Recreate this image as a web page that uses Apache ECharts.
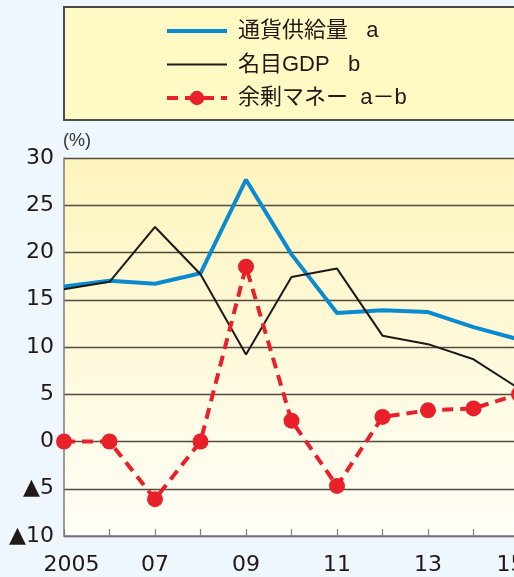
<!DOCTYPE html>
<html lang="ja">
<head>
    <meta charset="utf-8">
    <title>余剰マネー</title>
    <script src="https://cdn.jsdelivr.net/npm/echarts@6/dist/echarts.min.js"></script>
    <style>
        html, body {margin: 0; padding: 0; background: #eef7fe;}
        #main {width: 514px; height: 577px;}
    </style>
</head>
<body>
<div id="main"></div>
<script>
    // データ
    var years = ['2005', '2006', '2007', '2008', '2009', '2010', '2011', '2012', '2013', '2014', '2015'];
    var moneySupply = [16.4, 17.0, 16.7, 17.8, 27.7, 19.8, 13.6, 13.9, 13.7, 12.1, 10.8];   // 通貨供給量 a
    var nominalGdp = [16.1, 16.9, 22.7, 17.7, 9.2, 17.4, 18.3, 11.2, 10.3, 8.7, 5.6];      // 名目GDP b
    var surplus = [0, 0, -6.1, 0, 18.5, 2.2, -4.7, 2.6, 3.3, 3.5, 5.0];                   // 余剰マネー a-b
    var yearLabels = ['2005', '', '07', '', '09', '', '11', '', '13', '', '15'];

    var FONT = '"Liberation Sans", "Noto Sans CJK JP", sans-serif';
    var AXIS_FONT = '"DejaVu Sans", "Noto Sans CJK JP", sans-serif';
    var chart = echarts.init(document.getElementById('main'));

    var option = {
        backgroundColor: '#eef7fe',
        textStyle: {fontFamily: FONT},
        animation: false,
        graphic: [
            {   // 凡例の枠
                type: 'rect',
                shape: {x: 64, y: 7, width: 500, height: 113},
                style: {fill: '#fff9c4', stroke: '#4a4a4a', lineWidth: 2},
                z: 0
            },
            {
                type: 'text',
                left: 63, top: 132,
                style: {text: '(%)', font: '18px ' + FONT, fill: '#333'}
            }
        ],
        legend: {
            orient: 'vertical',
            left: 165, top: 20,
            padding: 0,
            itemWidth: 60, itemHeight: 18,
            itemGap: 11.5,
            lineStyle: {width: 'inherit'},
            textStyle: {fontSize: 22, lineHeight: 22, color: '#231815', fontFamily: FONT, padding: [0, 0, 0, 6]},
            data: [
                {name: '通貨供給量   a', itemStyle: {opacity: 0}},
                {name: '名目GDP   b', itemStyle: {opacity: 0}},
                {name: '余剰マネー  a－b'}
            ]
        },
        grid: {
            left: 64, top: 158, bottom: 41, right: -5,
            outerBoundsMode: 'none',
            containLabel: false,
            show: true,
            borderWidth: 0,
            backgroundColor: {
                type: 'linear', x: 0, y: 0, x2: 0, y2: 1,
                colorStops: [{offset: 0, color: '#fff4bd'}, {offset: 1, color: '#fffef8'}]
            }
        },
        xAxis: {
            type: 'category',
            data: years,
            boundaryGap: false,
            axisLine: {onZero: false, lineStyle: {color: '#7d7d7d', width: 1.5}},
            axisTick: {show: true, inside: true, length: 7, lineStyle: {color: '#7d7d7d', width: 1.2}},
            axisLabel: {
                interval: 0, fontSize: 22, fontFamily: AXIS_FONT, color: '#231815', margin: 18,
                formatter: function (v, i) {
                    if (i === 0) return '{first|' + yearLabels[i] + '}';
                    if (i === years.length - 1) return '{last|' + yearLabels[i] + '}';
                    return yearLabels[i];
                },
                rich: {
                    first: {fontSize: 22, fontFamily: AXIS_FONT, color: '#231815', padding: [0, 0, 0, 15]},
                    last: {fontSize: 22, fontFamily: AXIS_FONT, color: '#231815', padding: [0, 17, 0, 0]}
                }
            },
            splitLine: {show: false}
        },
        yAxis: {
            type: 'value',
            min: -10, max: 30, interval: 5,
            axisLine: {show: true, lineStyle: {color: '#7d7d7d', width: 1.5}},
            axisTick: {show: false},
            axisLabel: {
                fontSize: 22, fontFamily: AXIS_FONT, color: '#231815', margin: 10,
                formatter: function (v) { return v < 0 ? '▲' + Math.abs(v) : String(v); }
            },
            splitLine: {lineStyle: {color: '#4f4b40', width: 1.3}}
        },
        series: [
            {
                name: '通貨供給量   a',
                type: 'line',
                data: moneySupply,
                symbol: 'none',
                lineStyle: {color: '#0a8bd0', width: 4},
                itemStyle: {color: '#0a8bd0'},
                z: 3
            },
            {
                name: '名目GDP   b',
                type: 'line',
                data: nominalGdp,
                symbol: 'none',
                lineStyle: {color: '#1a1a1a', width: 2},
                itemStyle: {color: '#1a1a1a'},
                z: 4
            },
            {
                name: '余剰マネー  a－b',
                type: 'line',
                data: surplus,
                symbol: 'circle',
                symbolSize: 16,
                lineStyle: {color: '#e8202a', width: 4, type: [11, 7]},
                itemStyle: {color: '#e8202a'},
                z: 5
            }
        ]
    };

    chart.setOption(option);
</script>
</body>
</html>
